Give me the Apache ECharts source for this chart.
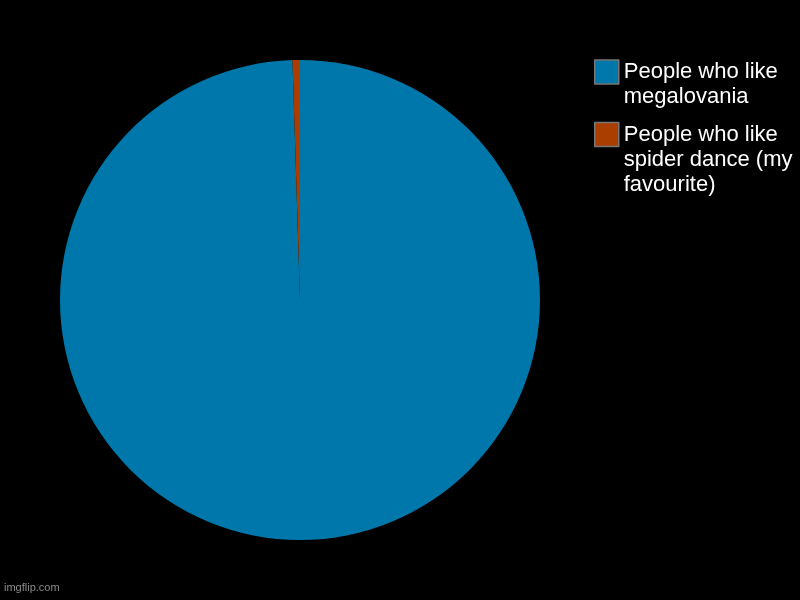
<!DOCTYPE html>
<html><head><meta charset="utf-8">
<script src="https://cdn.jsdelivr.net/npm/echarts@6/dist/echarts.min.js"></script>
<style>html,body{margin:0;padding:0;background:#000}#c{width:800px;height:600px}</style>
</head><body><div id="c"></div>
<script>
const categories = ['People who like megalovania', 'People who like spider dance (my favourite)'];
const legendLines = [['People who like', 'megalovania'], ['People who like', 'spider dance (my', 'favourite)']];
const values = [99.5, 0.5];
const colors = ['#0077aa', '#aa3e00'];

const LH = 25;
const chart = echarts.init(document.getElementById('c'));
chart.setOption({
  backgroundColor: '#000',
  animation: false,
  legend: {
    orient: 'vertical',
    left: 594,
    top: 34.5,
    padding: 0,
    itemWidth: 24,
    itemHeight: 24,
    itemGap: -37.5,
    icon: 'rect',
    itemStyle: { borderColor: '#777', borderWidth: 1.5 },
    textStyle: { color: '#fff', fontSize: 22, fontFamily: 'Liberation Sans, Arial, sans-serif', lineHeight: LH },
    data: categories,
    formatter: name => {
      const lines = legendLines[categories.indexOf(name)];
      return new Array(lines.length - 1).fill(' ').concat(lines).join('\n');
    }
  },
  graphic: [{
    type: 'text', left: 4, top: 582,
    style: { text: 'imgflip.com', fill: '#8a8a8a', font: '11px Liberation Sans, Arial, sans-serif' }
  }],
  series: [{
    type: 'pie',
    center: [300, 300],
    radius: 240,
    startAngle: 90,
    clockwise: true,
    label: { show: false },
    labelLine: { show: false },
    emphasis: { disabled: true },
    itemStyle: { borderWidth: 0 },
    data: categories.map((n, i) => ({ name: n, value: values[i], itemStyle: { color: colors[i] } }))
  }]
});
</script></body></html>
